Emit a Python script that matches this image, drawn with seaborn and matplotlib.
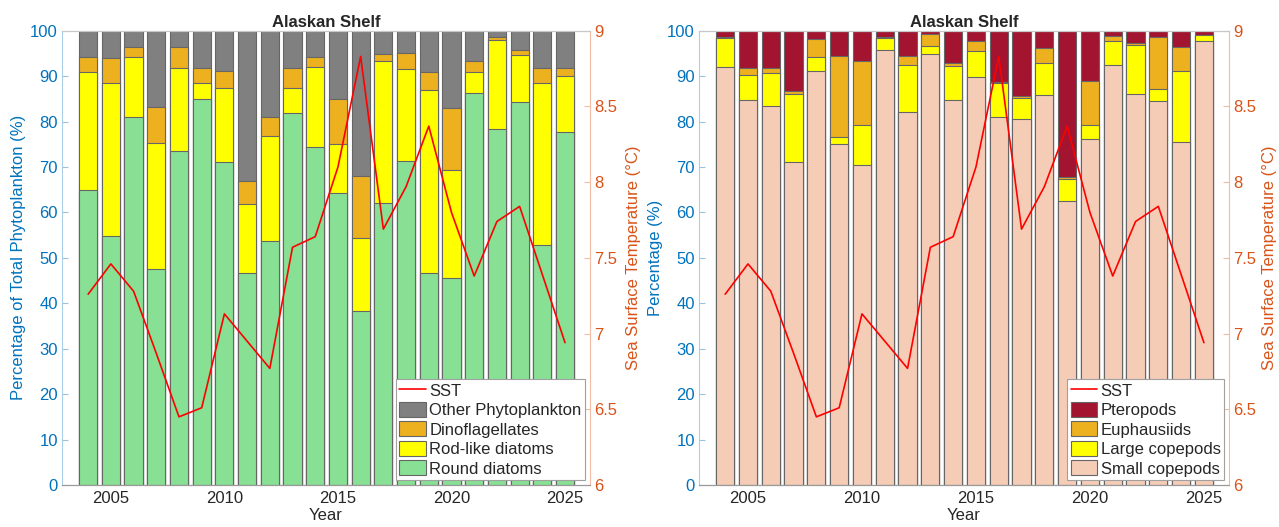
import numpy as np
import matplotlib
matplotlib.use("Agg")
import matplotlib.pyplot as plt
import seaborn as sns
from matplotlib.patches import Patch
from matplotlib.lines import Line2D

# ---------------- data ----------------
years = list(range(2004, 2026))
sst = [7.26, 7.46, 7.28, 6.87, 6.45, 6.51, 7.13, 6.95, 6.77, 7.57, 7.64,
       8.10, 8.83, 7.69, 7.97, 8.37, 7.80, 7.38, 7.74, 7.84, 7.39, 6.94]

round_diatoms = [65.0, 54.8, 80.9, 47.5, 73.6, 84.9, 71.0, 46.6, 53.7, 81.8, 74.4,
                 64.3, 38.4, 62.1, 71.3, 46.7, 45.6, 86.2, 78.4, 84.3, 52.9, 77.8]
rod_diatoms = [26.0, 33.8, 13.4, 27.7, 18.2, 3.5, 16.4, 15.3, 23.2, 5.5, 17.7,
               10.8, 16.0, 31.2, 20.2, 40.3, 23.8, 4.8, 19.6, 10.3, 35.5, 12.3]
dinoflagellates = [3.3, 5.4, 2.2, 8.0, 4.7, 3.4, 3.8, 5.0, 4.0, 4.5, 2.2,
                   9.9, 13.6, 1.5, 3.6, 4.0, 13.6, 2.4, 0.6, 1.2, 3.5, 1.7]
other_phyto = [5.7, 6.0, 3.5, 16.8, 3.5, 8.2, 8.8, 33.1, 19.1, 8.2, 5.7,
               15.0, 32.0, 5.2, 4.9, 9.0, 17.0, 6.6, 1.4, 4.2, 8.1, 8.2]

small_copepods = [92.0, 84.7, 83.4, 71.2, 91.2, 75.1, 70.4, 95.8, 82.1, 94.8, 84.8,
                  89.8, 81.1, 80.5, 85.8, 62.6, 76.2, 92.4, 86.0, 84.5, 75.6, 97.7]
large_copepods = [6.4, 5.5, 7.2, 14.8, 3.1, 1.5, 8.9, 2.5, 10.3, 1.8, 7.4,
                  5.7, 7.3, 4.6, 7.2, 4.7, 3.1, 5.3, 10.8, 2.6, 15.5, 1.3]
euphausiids = [0.2, 1.6, 1.2, 0.7, 3.8, 17.8, 14.0, 0.3, 2.0, 2.7, 0.8,
               2.3, 0.3, 0.6, 3.2, 0.6, 9.6, 1.1, 0.4, 11.5, 5.3, 0.1]
pteropods = [1.4, 8.2, 8.2, 13.3, 1.9, 5.6, 6.7, 1.4, 5.6, 0.7, 7.0,
             2.2, 11.3, 14.3, 3.8, 32.1, 11.1, 1.2, 2.8, 1.4, 3.6, 0.9]

phyto_labels = ["Round diatoms", "Rod-like diatoms", "Dinoflagellates", "Other Phytoplankton"]
zoo_labels = ["Small copepods", "Large copepods", "Euphausiids", "Pteropods"]
xtick_vals = [2005, 2010, 2015, 2020, 2025]
sst_ticks = [6, 6.5, 7, 7.5, 8, 8.5, 9]
sst_ticklabels = ["6", "6.5", "7", "7.5", "8", "8.5", "9"]

# ---------------- style ----------------
sns.set_style("ticks")
plt.rcParams["font.family"] = ["Liberation Sans", "DejaVu Sans"]
plt.rcParams["font.size"] = 11

BLUE = "#0072BD"
ORANGE = "#D95319"
EDGE = "#666666"
phyto_colors = ["#88E094", "#FFFF00", "#EDB120", "#808080"]
zoo_colors = ["#F5CDB6", "#FFFF00", "#EDB120", "#A2142F"]

fig = plt.figure(figsize=(12.79, 5.27), dpi=100)


def panel(rect, series, labels, colors, ylabel, rpad):
    ax = fig.add_axes(rect)
    cums = []
    cum = np.zeros(len(years))
    for s in series:
        cum = cum + np.array(s)
        cums.append(cum.copy())
    for c, col in zip(reversed(cums), reversed(colors)):
        sns.barplot(x=years, y=c, color=col, native_scale=True, width=0.8,
                    saturation=1, edgecolor=EDGE, linewidth=0.8,
                    errorbar=None, ax=ax)
    ax.set_xlim(2002.85, 2026.1)
    ax.set_ylim(0, 100)
    ax.set_xticks(xtick_vals)
    ax.set_xticklabels([str(v) for v in xtick_vals])
    ax.set_yticks(range(0, 101, 10))
    ax.tick_params(axis="y", direction="in", length=4, colors="#9cc3de",
                   labelcolor=BLUE, labelsize=12, pad=3)
    ax.tick_params(axis="x", direction="in", length=4, colors="#9a9a9a",
                   labelcolor="#262626", labelsize=12, pad=4)
    ax.set_ylabel(ylabel, color=BLUE, fontsize=12, labelpad=3)
    ax.set_xlabel("Year", color="#262626", fontsize=12, labelpad=2)
    ax.set_title("Alaskan Shelf", fontsize=12, fontweight="bold", pad=3)
    ax.spines["left"].set_color("#a9cfe8")
    ax.spines["right"].set_visible(False)
    ax.spines["bottom"].set_color("#9a9a9a")
    ax.spines["top"].set_color("#c8c8c8")

    ax2 = ax.twinx()
    sns.lineplot(x=years, y=sst, color="#FF0000", linewidth=1.2, ax=ax2)
    ax2.set_ylim(6, 9)
    ax2.set_yticks(sst_ticks)
    ax2.set_yticklabels(sst_ticklabels)
    ax2.tick_params(axis="y", direction="in", length=4, colors="#f2bba3",
                    labelcolor=ORANGE, labelsize=12, pad=3)
    ax2.set_ylabel("Sea Surface Temperature (\u00b0C)", color=ORANGE,
                   fontsize=12, labelpad=rpad)
    ax2.spines["left"].set_visible(False)
    ax2.spines["right"].set_color("#f2bba3")
    ax2.spines["bottom"].set_color("#9a9a9a")
    ax2.spines["top"].set_color("#c8c8c8")

    handles = [Line2D([], [], color="#FF0000", lw=1.2)]
    names = ["SST"]
    for lab, col in zip(reversed(labels), reversed(colors)):
        handles.append(Patch(facecolor=col, edgecolor=EDGE, linewidth=0.8))
        names.append(lab)
    leg = ax2.legend(handles, names, loc="lower right", fontsize=12,
                     frameon=True, fancybox=False, edgecolor="#a0a0a0",
                     framealpha=1, borderpad=0.2, handlelength=1.6,
                     handleheight=1.0, handletextpad=0.2, labelspacing=0.2,
                     borderaxespad=0.3)
    leg.get_frame().set_linewidth(0.8)
    return ax, ax2


panel([0.0485, 0.0797, 0.4128, 0.862],
      [round_diatoms, rod_diatoms, dinoflagellates, other_phyto],
      phyto_labels, phyto_colors, "Percentage of Total Phytoplankton (%)", 6)
panel([0.5465, 0.0797, 0.4144, 0.862],
      [small_copepods, large_copepods, euphausiids, pteropods],
      zoo_labels, zoo_colors, "Percentage (%)", 4)

fig.savefig("out.png", dpi=100)
